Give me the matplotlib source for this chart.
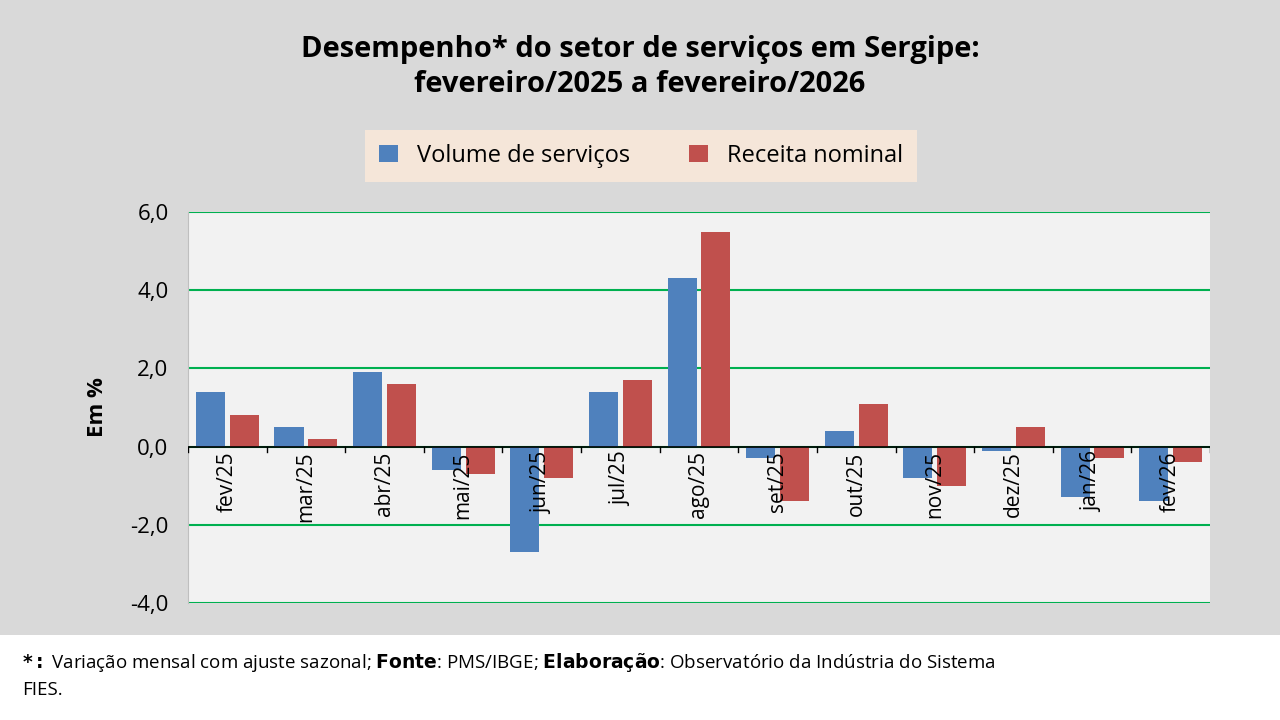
import matplotlib.pyplot as plt
import numpy as np
from matplotlib.patches import Rectangle

months = ["fev/25", "mar/25", "abr/25", "mai/25", "jun/25", "jul/25", "ago/25",
          "set/25", "out/25", "nov/25", "dez/25", "jan/26", "fev/26"]
volume = [1.4, 0.5, 1.9, -0.6, -2.7, 1.4, 4.3, -0.3, 0.4, -0.8, -0.1, -1.3, -1.4]
receita = [0.8, 0.2, 1.6, -0.7, -0.8, 1.7, 5.5, -1.4, 1.1, -1.0, 0.5, -0.3, -0.4]

plt.rcParams["font.family"] = ["Open Sans", "DejaVu Sans"]

W, H = 1280, 720
fig = plt.figure(figsize=(12.8, 7.2), dpi=100)
fig.patch.set_facecolor("#d9d9d9")

# footer box
fig.add_artist(Rectangle((0, 0), 1, 85 / H, transform=fig.transFigure,
                         facecolor="white", edgecolor="none"))
fig.text(22 / W, 1 - 662 / H, r"$\bf{*:}$ Variação mensal com ajuste sazonal; $\bf{Fonte}$: PMS/IBGE; "
         r"$\bf{Elaboração}$: Observatório da Indústria do Sistema",
         fontsize=13.5, va="center", ha="left")
fig.text(22 / W, 1 - 690 / H, "FIES.", fontsize=13.5, va="center", ha="left")

fig.text(0.5, 1 - 67 / H, "Desempenho* do setor de serviços em Sergipe:\nfevereiro/2025 a fevereiro/2026",
         ha="center", va="center", fontsize=21, fontweight="bold", linespacing=1.3)

ax = fig.add_axes([188 / W, 1 - 603 / H, (1210 - 188) / W, (603 - 212) / H])
ax.set_facecolor("#f2f2f2")
x = np.arange(len(months))
w = 0.37
gap = 0.06
ax.bar(x - (w + gap) / 2, volume, w, color="#4f81bd", label="Volume de serviços", zorder=3)
ax.bar(x + (w + gap) / 2, receita, w, color="#c0504d", label="Receita nominal", zorder=3)

ax.set_ylim(-4, 6)
ax.set_xlim(-0.5, len(months) - 0.5)
ax.set_yticks([-4, -2, 0, 2, 4, 6])
ax.set_yticklabels([f"{v:.1f}".replace(".", ",") for v in [-4, -2, 0, 2, 4, 6]], fontsize=16)
ax.yaxis.grid(True, color="#00b050", linewidth=1.5, zorder=1)
ax.tick_params(axis="y", length=0, pad=14)
ax.set_ylabel("Em %", fontsize=16, fontweight="bold", labelpad=16)
for s in ax.spines.values():
    s.set_visible(False)
ax.spines["left"].set_visible(True)
ax.spines["left"].set_color("#bfbfbf")

ax.axhline(0, color="black", linewidth=1.2, zorder=4)
ax.set_xticks([])
for i in range(len(months) + 1):
    ax.plot([i - 0.5, i - 0.5], [0, -0.15], color="black", linewidth=1, zorder=4)
for i, m in enumerate(months):
    ax.text(i, -0.12, m, rotation=90, ha="center", va="top", fontsize=15, zorder=5)

leg = fig.legend(loc="center", bbox_to_anchor=(641 / W, 1 - 156 / H), ncol=2,
                 fontsize=17, frameon=True, fancybox=False, handlelength=0.8,
                 columnspacing=2.5, borderpad=0.6, borderaxespad=0)
leg.get_frame().set_facecolor("#fdeada")
leg.get_frame().set_edgecolor("none")
# widen the legend box padding horizontally
leg._legend_box.sep = 10
for t in leg.get_texts():
    t.set_x(0)

fig.savefig("out.png", dpi=100, facecolor=fig.get_facecolor())
